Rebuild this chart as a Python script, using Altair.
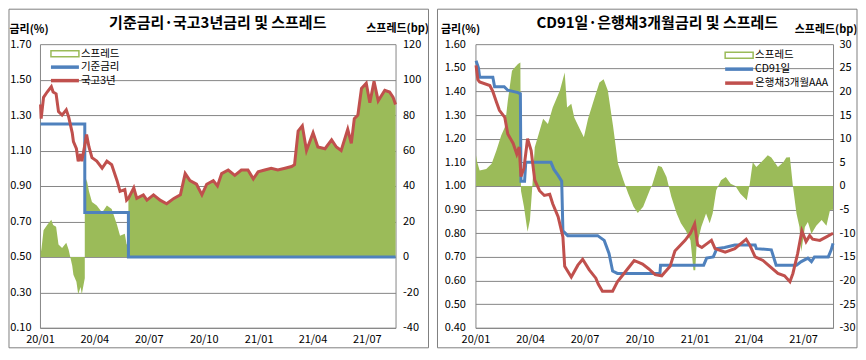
import altair as alt
import pandas as pd

FONT = "Noto Sans CJK KR"
GREEN, BLUE, RED = "#9BBB59", "#4F81BD", "#C0504D"
GRID, FRAME = "#868686", "#7F7F7F"

title_left = "기준금리·국고3년금리 및 스프레드"
title_right = "CD91일·은행채3개월금리 및 스프레드"
legend_left = ["스프레드", "기준금리", "국고3년"]
legend_right = ["스프레드", "CD91일", "은행채3개월AAA"]
rate_title = "금리(%)"
spread_title = "스프레드(bp)"

x_tick_dates = ["2020-01-01", "2020-04-01", "2020-07-01", "2020-10-01",
                "2021-01-01", "2021-04-01", "2021-07-01"]

# ---- left panel: base rate & KTB 3y ----
base_dates = ["2020-01-02", "2020-03-16", "2020-05-28", "2021-08-18"]
base_rates = [1.25, 0.75, 0.50, 0.50]

ktb_dates = ["2020-01-02", "2020-01-03", "2020-01-07", "2020-01-13", "2020-01-20", "2020-01-23",
             "2020-01-28", "2020-02-01", "2020-02-07", "2020-02-14", "2020-02-18", "2020-02-24",
             "2020-02-26", "2020-03-02", "2020-03-05", "2020-03-09", "2020-03-11", "2020-03-16",
             "2020-03-19", "2020-03-23", "2020-03-28", "2020-04-05", "2020-04-14", "2020-04-22",
             "2020-04-30", "2020-05-09", "2020-05-14", "2020-05-22", "2020-05-25", "2020-05-28",
             "2020-06-06", "2020-06-11", "2020-06-22", "2020-06-28", "2020-07-09", "2020-07-20",
             "2020-07-31", "2020-08-12", "2020-08-23", "2020-08-31", "2020-09-08", "2020-09-19",
             "2020-09-28", "2020-10-06", "2020-10-17", "2020-10-24", "2020-10-31", "2020-11-11",
             "2020-11-22", "2020-12-03", "2020-12-14", "2020-12-23", "2020-12-31", "2021-01-11",
             "2021-01-22", "2021-02-02", "2021-02-14", "2021-02-25", "2021-03-02", "2021-03-08",
             "2021-03-15", "2021-03-22", "2021-04-02", "2021-04-10", "2021-04-22", "2021-05-03",
             "2021-05-11", "2021-05-19", "2021-05-30", "2021-06-05", "2021-06-10", "2021-06-16",
             "2021-06-22", "2021-06-30", "2021-07-06", "2021-07-13", "2021-07-20", "2021-07-31",
             "2021-08-08", "2021-08-14", "2021-08-18"]
ktb_rates = [1.36, 1.28, 1.40, 1.43, 1.46, 1.43,
             1.42, 1.32, 1.30, 1.33, 1.29, 1.20,
             1.15, 1.11, 1.04, 1.08, 1.04, 1.13,
             1.19, 1.12, 1.06, 1.04, 1.00, 1.04,
             1.02, 0.93, 0.87, 0.88, 0.82, 0.83,
             0.89, 0.83, 0.85, 0.82, 0.85, 0.82,
             0.80, 0.83, 0.85, 0.97, 0.93, 0.91,
             0.85, 0.91, 0.93, 0.90, 0.97, 0.99,
             0.96, 0.99, 0.99, 0.94, 0.98, 0.99,
             1.00, 0.99, 1.00, 1.01, 1.02, 1.21,
             1.24, 1.10, 1.20, 1.12, 1.11, 1.16,
             1.12, 1.10, 1.22, 1.14, 1.28, 1.30,
             1.45, 1.48, 1.37, 1.49, 1.38, 1.44,
             1.43, 1.40, 1.36]

# ---- right panel: CD 91d & bank debenture 3m ----
cd_dates = ["2020-01-02", "2020-01-06", "2020-01-08", "2020-01-30", "2020-02-02", "2020-02-18",
            "2020-02-24", "2020-03-12", "2020-03-16", "2020-03-17", "2020-03-23", "2020-03-25",
            "2020-05-06", "2020-05-11", "2020-05-18", "2020-05-24", "2020-05-26", "2020-06-03",
            "2020-07-23", "2020-08-03", "2020-08-11", "2020-08-17", "2020-08-25", "2020-11-04",
            "2020-11-05", "2021-01-16", "2021-01-21", "2021-02-01", "2021-02-07", "2021-02-20",
            "2021-03-09", "2021-04-12", "2021-04-14", "2021-05-09", "2021-05-17", "2021-06-20",
            "2021-06-28", "2021-07-09", "2021-07-15", "2021-07-20", "2021-08-12", "2021-08-17",
            "2021-08-20"]
cd_rates = [1.53, 1.50, 1.46, 1.46, 1.42, 1.42,
            1.405, 1.395, 1.39, 1.02, 1.02, 1.10,
            1.10, 1.07, 1.045, 1.02, 0.81, 0.79,
            0.79, 0.77, 0.715, 0.64, 0.63, 0.63,
            0.665, 0.665, 0.695, 0.70, 0.735, 0.74,
            0.75, 0.75, 0.735, 0.73, 0.665, 0.665,
            0.68, 0.695, 0.68, 0.70, 0.70, 0.73,
            0.757]

bank_dates = ["2020-01-02", "2020-01-05", "2020-01-08", "2020-01-25", "2020-01-30", "2020-02-05",
              "2020-02-10", "2020-02-19", "2020-02-24", "2020-03-04", "2020-03-10", "2020-03-14",
              "2020-03-17", "2020-03-22", "2020-03-28", "2020-04-03", "2020-04-09", "2020-04-17",
              "2020-04-25", "2020-05-04", "2020-05-09", "2020-05-18", "2020-05-26", "2020-05-29",
              "2020-06-09", "2020-06-20", "2020-06-28", "2020-07-09", "2020-07-20", "2020-07-24",
              "2020-07-31", "2020-08-17", "2020-08-25", "2020-09-05", "2020-09-22", "2020-10-06",
              "2020-10-16", "2020-10-27", "2020-11-07", "2020-11-21", "2020-11-29", "2020-12-16",
              "2020-12-25", "2021-01-01", "2021-01-06", "2021-01-13", "2021-01-21", "2021-01-29",
              "2021-02-04", "2021-02-21", "2021-03-09", "2021-03-28", "2021-04-03", "2021-04-12",
              "2021-04-25", "2021-05-04", "2021-05-20", "2021-05-31", "2021-06-09", "2021-06-14",
              "2021-06-22", "2021-06-29", "2021-07-06", "2021-07-12", "2021-07-17", "2021-07-29",
              "2021-08-09", "2021-08-20"]
bank_rates = [1.51, 1.45, 1.44, 1.425, 1.40, 1.355,
              1.32, 1.29, 1.22, 1.18, 1.135, 1.165,
              1.04, 1.075, 1.20, 1.15, 1.025, 0.98,
              0.96, 0.965, 0.925, 0.87, 0.785, 0.66,
              0.615, 0.665, 0.69, 0.645, 0.61, 0.585,
              0.555, 0.555, 0.595, 0.63, 0.685, 0.67,
              0.65, 0.625, 0.62, 0.66, 0.725, 0.77,
              0.80, 0.84, 0.75, 0.74, 0.755, 0.77,
              0.735, 0.72, 0.735, 0.775, 0.75, 0.70,
              0.685, 0.665, 0.63, 0.62, 0.595, 0.63,
              0.715, 0.81, 0.765, 0.79, 0.775, 0.77,
              0.785, 0.80]

spread2_dates = ["2020-01-02", "2020-01-04", "2020-01-08", "2020-01-19", "2020-01-28", "2020-02-05",
                 "2020-02-13", "2020-02-19", "2020-02-24", "2020-03-02", "2020-03-07", "2020-03-12",
                 "2020-03-16", "2020-03-17", "2020-03-22", "2020-03-28", "2020-04-01", "2020-04-05",
                 "2020-04-09", "2020-04-14", "2020-04-23", "2020-05-01", "2020-05-09", "2020-05-21",
                 "2020-05-29", "2020-06-02", "2020-06-09", "2020-06-14", "2020-06-23", "2020-06-30",
                 "2020-07-07", "2020-07-18", "2020-07-26", "2020-08-02", "2020-08-09", "2020-08-18",
                 "2020-08-26", "2020-09-04", "2020-09-12", "2020-09-21", "2020-09-28", "2020-10-07",
                 "2020-10-18", "2020-10-22", "2020-11-01", "2020-11-07", "2020-11-15", "2020-11-23",
                 "2020-12-02", "2020-12-09", "2020-12-17", "2020-12-25", "2020-12-30", "2021-01-02",
                 "2021-01-04", "2021-01-12", "2021-01-20", "2021-01-26", "2021-01-31", "2021-02-06",
                 "2021-02-14", "2021-02-22", "2021-03-02", "2021-03-10", "2021-03-18", "2021-03-29",
                 "2021-04-03", "2021-04-08", "2021-04-14", "2021-04-22", "2021-05-03", "2021-05-09",
                 "2021-05-20", "2021-05-29", "2021-06-03", "2021-06-09", "2021-06-14", "2021-06-20",
                 "2021-06-25", "2021-06-28", "2021-07-04", "2021-07-09", "2021-07-15", "2021-07-23",
                 "2021-08-01", "2021-08-09", "2021-08-15", "2021-08-20"]
spread2_bp = [6.5, 5.0, 3.3, 3.6, 4.7, 7.5,
              10.7, 12.4, 18.0, 24.4, 25.1, 25.8,
              26.1, -1.0, -4.4, -9.7, -7.2, 0.0,
              8.2, 10.3, 14.2, 13.1, 16.6, 20.2,
              24.0, 16.6, 17.4, 14.5, 12.1, 10.3,
              14.2, 18.7, 21.9, 22.6, 20.2, 12.4,
              4.7, 1.2, -1.6, -4.4, -5.7, -4.4,
              -0.9, 0.2, 4.3, 4.0, 1.9, -2.3,
              -5.8, -7.9, -9.4, -11.5, -17.8, -17.8,
              -12.9, -8.7, -5.8, -7.9, -5.8, -0.9,
              1.2, 1.9, 0.5, 0.0, -1.6, -3.0,
              0.5, 5.0, 4.0, 5.0, 6.5, 6.0,
              4.0, 5.0, 6.0, 6.1, 0.0, -5.8,
              -8.7, -13.9, -8.7, -7.6, -10.1, -8.4,
              -7.2, -8.4, -5.1, -5.0]

# ---- derived frames ----
base_df = pd.DataFrame({"date": pd.to_datetime(base_dates), "rate": base_rates})
ktb_df = pd.DataFrame({"date": pd.to_datetime(ktb_dates), "rate": ktb_rates})
cd_df = pd.DataFrame({"date": pd.to_datetime(cd_dates), "rate": cd_rates})
bank_df = pd.DataFrame({"date": pd.to_datetime(bank_dates), "rate": bank_rates})
spread2_df = pd.DataFrame({"date": pd.to_datetime(spread2_dates), "bp": spread2_bp})

steps = [(pd.Timestamp(d), r) for d, r in zip(base_dates, base_rates)]


def base_at(t):
    cur = steps[0][1]
    for sd, r in steps:
        if t >= sd:
            cur = r
    return cur


rows = []
for d, v in zip(ktb_dates, ktb_rates):
    t = pd.Timestamp(d)
    for i in range(1, len(steps) - 1):
        if t == steps[i][0]:
            rows.append({"date": t - pd.Timedelta(minutes=1),
                         "bp": round((v - steps[i - 1][1]) * 100, 1)})
    rows.append({"date": t, "bp": round((v - base_at(t)) * 100, 1)})
spread1_df = pd.DataFrame(rows)


def dt(s):
    y, m, d = (int(p) for p in s.split("-"))
    return alt.DateTime(year=y, month=m, date=d)


tick_vals = [dt(s) for s in x_tick_dates]
one = pd.DataFrame({"k": [0]})


def deco_text(s, x, y, size=10.5, bold=False, align="left"):
    return alt.Chart(one).mark_text(
        text=s, font=FONT, fontSize=size, fontWeight="bold" if bold else "normal",
        align=align, baseline="middle", color="#000000"
    ).encode(x=alt.value(x), y=alt.value(y))


def deco_rule(x1, x2, y, color, w):
    return alt.Chart(one).mark_rule(color=color, strokeWidth=w, strokeCap="butt").encode(
        x=alt.value(x1), x2=alt.value(x2), y=alt.value(y))


def deco_box(x1, x2, y1, y2, stroke, fill, w):
    return alt.Chart(one).mark_rect(fill=fill, stroke=stroke, strokeWidth=w).encode(
        x=alt.value(x1), x2=alt.value(x2), y=alt.value(y1), y2=alt.value(y2))


def x_enc(end):
    return alt.X("date:T", title=None,
                 scale=alt.Scale(domain=[dt("2020-01-01"), dt(end)], nice=False),
                 axis=alt.Axis(values=tick_vals, format="%y/%m", labelFlush=False,
                               labelOverlap=False, ticks=False, grid=False,
                               domainColor=GRID, labelPadding=6))


def y_rate(dom, vals, pad, tx, ty):
    return alt.Y("rate:Q", scale=alt.Scale(domain=dom, nice=False, zero=False),
                 axis=alt.Axis(orient="left", values=vals, format=".2f", grid=True,
                               gridColor=GRID, domainColor=GRID, ticks=False,
                               labelPadding=pad, labelOverlap=False, title=rate_title,
                               titleAngle=0, titleX=tx, titleY=ty, titleAlign="left",
                               titleBaseline="middle"))


def y_spread(dom, vals, pad, tx, ty):
    return alt.Y("bp:Q", scale=alt.Scale(domain=dom, nice=False, zero=False),
                 axis=alt.Axis(orient="right", values=vals, labelExpr="'' + datum.value",
                               grid=False, domainColor=GRID, ticks=False,
                               labelPadding=pad, labelOverlap=False, title=spread_title,
                               titleAngle=0, titleX=tx, titleY=ty, titleAlign="right",
                               titleBaseline="middle"))


H = 284

# ---- left panel ----
W1 = 356
END1 = "2021-08-18"
rate1_vals = [round(0.1 + 0.2 * i, 2) for i in range(9)]
bp1_vals = list(range(-40, 121, 20))

left = alt.layer(
    deco_box(-31, W1 + 33, -35, H + 20, FRAME, "transparent", 1),
    alt.Chart(spread1_df).mark_area(color=GREEN, opacity=1).encode(
        x=x_enc(END1), y=y_spread([-40, 120], bp1_vals, 7, 33, -15.5), y2=alt.datum(0)),
    alt.layer(
        alt.Chart(base_df).mark_line(color=BLUE, strokeWidth=3, interpolate="step-after").encode(
            x=x_enc(END1), y=y_rate([0.1, 1.7], rate1_vals, 9, -31, -15)),
        alt.Chart(ktb_df).mark_line(color=RED, strokeWidth=3).encode(
            x=x_enc(END1), y=y_rate([0.1, 1.7], rate1_vals, 9, -31, -15)),
    ),
    deco_box(11, 39, 6.5, 12.5, GREEN, "#ffffff", 1.5),
    deco_text(legend_left[0], 41, 9.5),
    deco_rule(11, 39, 23, BLUE, 3.5),
    deco_text(legend_left[1], 41, 23),
    deco_rule(11, 39, 36.5, RED, 3.5),
    deco_text(legend_left[2], 41, 36.5),
    deco_text(title_left, W1 / 2, -21, size=15, bold=True, align="center"),
).resolve_scale(y="independent").properties(width=W1, height=H)

# ---- right panel ----
W2 = 358
END2 = "2021-08-20"
rate2_vals = [round(0.4 + 0.1 * i, 2) for i in range(13)]
bp2_vals = list(range(-30, 31, 5))

right = alt.layer(
    deco_box(-38, W2 + 24, -35, H + 20, FRAME, "transparent", 1),
    alt.Chart(spread2_df).mark_area(color=GREEN, opacity=1).encode(
        x=x_enc(END2), y=y_spread([-30, 30], bp2_vals, 6, 24, -15), y2=alt.datum(0)),
    alt.layer(
        alt.Chart(cd_df).mark_line(color=BLUE, strokeWidth=3).encode(
            x=x_enc(END2), y=y_rate([0.4, 1.6], rate2_vals, 10, -35, -14.5)),
        alt.Chart(bank_df).mark_line(color=RED, strokeWidth=3).encode(
            x=x_enc(END2), y=y_rate([0.4, 1.6], rate2_vals, 10, -35, -14.5)),
    ),
    deco_box(250, 278, 8, 14, GREEN, "#ffffff", 1.5),
    deco_text(legend_right[0], 280, 11),
    deco_rule(250, 278, 25, BLUE, 3.5),
    deco_text(legend_right[1], 280, 25),
    deco_rule(250, 278, 39, RED, 3.5),
    deco_text(legend_right[2], 280, 39),
    deco_text(title_right, W2 / 2 + 3, -21, size=15, bold=True, align="center"),
).resolve_scale(y="independent").properties(width=W2, height=H)

chart = alt.hconcat(left, right, spacing=7).properties(
    padding=0, background="white"
).configure_view(strokeWidth=0).configure_axis(
    labelFont=FONT, labelFontSize=11, labelColor="#000000",
    titleFont=FONT, titleFontSize=11, titleFontWeight="bold", titleColor="#000000",
    gridWidth=1, domainWidth=1
)

chart.save("out.html", embed_options={"renderer": "svg", "actions": False})
